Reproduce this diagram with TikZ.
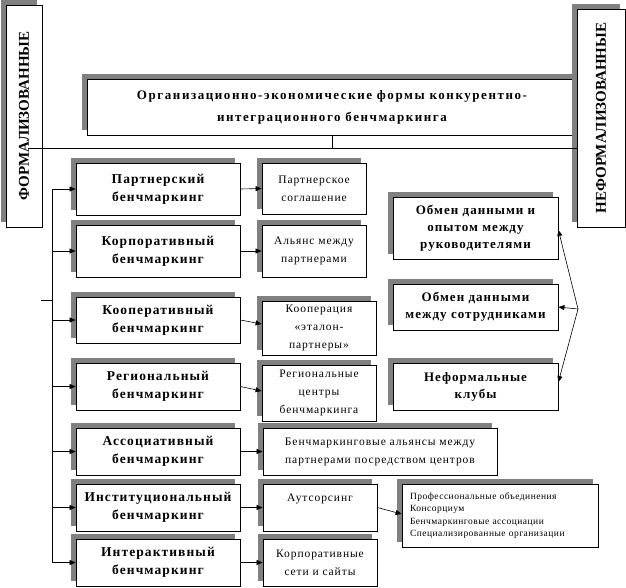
\documentclass[tikz,border=0pt]{standalone}
\usepackage{fontspec}
\usepackage{graphicx}
\setmainfont{Liberation Serif}
\newfontfamily\ttlfont[LetterSpace=12]{Liberation Serif}
\newfontfamily\mainfont[LetterSpace=8]{Liberation Serif}
\newfontfamily\subfont[LetterSpace=8]{Liberation Serif}
\newfontfamily\rfont[LetterSpace=8]{Liberation Serif}
\newfontfamily\lstfont[LetterSpace=5]{Liberation Serif}
\usetikzlibrary{shadows,arrows.meta,calc}
\definecolor{shadowgray}{HTML}{808080}
\begin{document}
\begin{tikzpicture}[x=1pt,y=-1pt,
  box/.style={draw, line width=0.8pt, fill=white, inner sep=0pt, align=center,
    general shadow={fill=shadowgray, shadow xshift=-5pt, shadow yshift=5pt}},
  mainbox/.style={box, minimum width=164pt, font=\mainfont\bfseries\fontsize{13.5}{18}\selectfont},
  subbox/.style={box, font=\subfont\fontsize{11.5}{18}\selectfont},
  rbox/.style={box, minimum width=165pt, font=\rfont\bfseries\fontsize{13}{17}\selectfont},
  arr/.style={line width=0.6pt, -{Triangle[length=6pt,width=5pt]}},
  ln/.style={line width=0.8pt}
]
\useasboundingbox (0,0) rectangle (626,587);

% side boxes
\node[box, minimum width=36pt, minimum height=222pt, font=\bfseries\fontsize{15}{15}\selectfont] (F) at (24,116) {\rotatebox{90}{ФОРМАЛИЗОВАННЫЕ}};
\node[box, minimum width=490pt, minimum height=56pt, font=\ttlfont\bfseries\fontsize{13}{22}\selectfont] (T) at (332,107) {Организационно-экономические формы конкурентно-\\интеграционного бенчмаркинга};
\node[box, minimum width=48pt, minimum height=218pt, font=\bfseries\fontsize{15}{15}\selectfont] (N) at (601,118) {\rotatebox{90}{НЕФОРМАЛИЗОВАННЫЕ}};

% main boxes
\node[mainbox, minimum height=52pt] (M1) at (158,189) {Партнерский\\бенчмаркинг};
\node[mainbox, minimum height=52pt] (M2) at (158,251) {Корпоративный\\бенчмаркинг};
\node[mainbox, minimum height=46pt] (M3) at (158,320) {Кооперативный\\бенчмаркинг};
\node[mainbox, minimum height=47pt] (M4) at (158,386.5) {Региональный\\бенчмаркинг};
\node[mainbox, minimum height=47pt] (M5) at (158,451.5) {Ассоциативный\\бенчмаркинг};
\node[mainbox, minimum height=47pt] (M6) at (158,507.5) {Институциональный\\бенчмаркинг};
\node[mainbox, minimum height=47pt] (M7) at (158,562.5) {Интерактивный\\бенчмаркинг};

% sub boxes
\node[subbox, minimum width=104pt, minimum height=51pt] (S1) at (314,188.5) {Партнерское\\соглашение};
\node[subbox, minimum width=104pt, minimum height=52pt] (S2) at (314,251) {Альянс между\\партнерами};
\node[subbox, minimum width=114pt, minimum height=54pt] (S3) at (319,328) {Кооперация\\«эталон-\\партнеры»};
\node[subbox, minimum width=114pt, minimum height=56pt] (S4) at (319,393) {Региональные\\центры\\бенчмаркинга};
\node[subbox, minimum width=234pt, minimum height=47pt] (S5) at (380,451.5) {Бенчмаркинговые альянсы между\\партнерами посредством центров};
\node[subbox, minimum width=114pt, minimum height=47pt] (S6) at (320,507.5) {Аутсорсинг\\[2pt]~};
\node[subbox, minimum width=114pt, minimum height=47pt] (S7) at (320,562.5) {Корпоративные\\сети и сайты};
\node[box, align=left, inner xsep=8pt, text width=180pt, minimum height=63pt, font=\lstfont\fontsize{9.5}{12.3}\selectfont] (L) at (500,515.5) {Профессиональные объединения\\Консорциум\\Бенчмаркинговые ассоциации\\Специализированные организации};

% right boxes
\node[rbox, minimum height=62pt] (R1) at (475.5,228) {Обмен данными и\\опытом между\\руководителями};
\node[rbox, minimum height=46pt] (R2) at (475.5,307) {Обмен данными\\между сотрудниками};
\node[rbox, minimum height=47pt] (R3) at (475.5,386.5) {Неформальные\\клубы};

% connectors
\coordinate (c1) at (28,148);
\draw[ln] (c1) -- (N.west |- c1);
\draw[ln] (T.south) -- (T.south |- c1);

\coordinate (tt) at (52,189);
\coordinate (tb) at (52,562.5);
\coordinate (stub) at (41,300);
\draw[ln] (tt) -- (tb);
\draw[ln] (stub) -- (tt |- stub);
\foreach \m in {M1,M2,M3,M4,M5,M6,M7} {
  \draw[arr] (tt |- \m.west) -- (\m.west);
}
\draw[arr] (M1.east) -- (S1.west);
\draw[arr] (M2.east) -- (S2.west);
\draw[arr] (M3.east) -- ($(S3.west)+(0,-4)$);
\draw[arr] (M4.east) -- ($(S4.west)+(0,-2)$);
\draw[arr] (M5.east) -- (S5.west);
\draw[arr] (M6.east) -- (S6.west);
\draw[arr] (M7.east) -- (S7.west);
\draw[arr] (S6.east) -- ($(L.west)+(0,-1.5)$);

\coordinate (hub) at (578,309);
\draw[arr] (hub) -- ($(R1.east)+(0,2)$);
\draw[arr] (hub) -- (R2.east);
\draw[arr] (hub) -- ($(R3.east)+(0,-4.5)$);
\end{tikzpicture}
\end{document}
